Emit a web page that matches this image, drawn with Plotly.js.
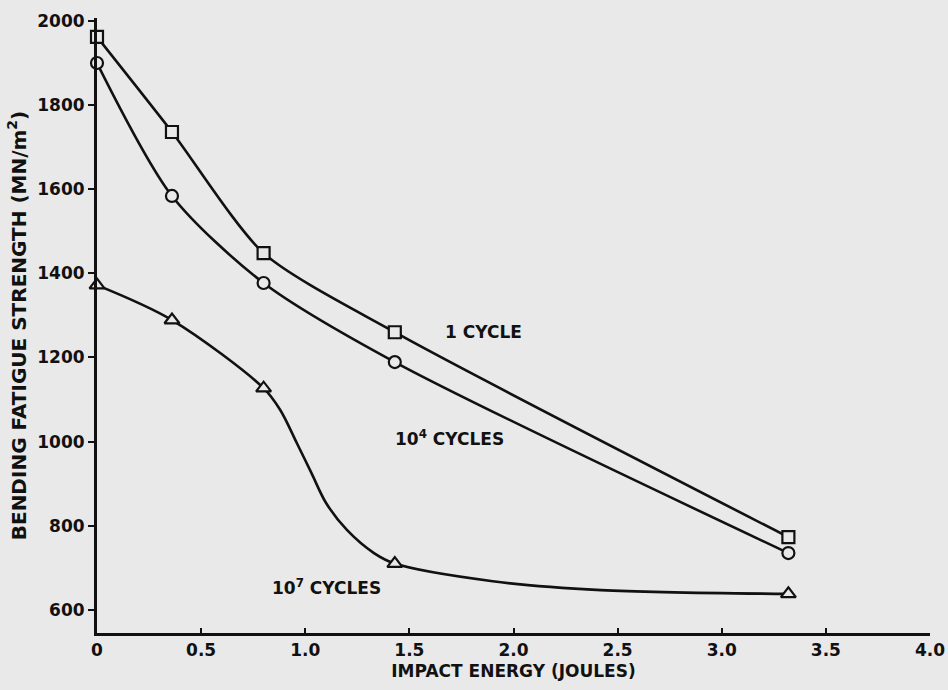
<!DOCTYPE html>
<html>
<head>
<meta charset="utf-8">
<script src="https://cdn.plot.ly/plotly-3.0.1.min.js"></script>
<style>html,body{margin:0;padding:0;background:#e9e9e9;}#chart{width:948px;height:690px;}</style>
</head>
<body>
<div id="chart"></div>
<script>
// Impact energy (joules) at which specimens were tested
const energy = [0, 0.36, 0.80, 1.43, 3.32];
// Bending fatigue strength (MN/m^2)
const oneCycle   = [1962, 1736, 1448, 1260, 773];
const tenE4      = [1900, 1584, 1377, 1189, 735];
const tenE7      = [1372, 1289, 1127, 710, 638];
// Extra points read along the hand-drawn 10^7 curve (shape of the S-bend)
const curve7X = [0, 0.36, 0.80, 0.88, 0.96, 1.03, 1.10, 1.20, 1.33, 1.43, 1.90, 2.42, 3.32];
const curve7Y = [1372, 1289, 1127, 1075, 996, 925, 854, 790, 735, 710, 668, 647, 638];

const xTicks = [0, 0.5, 1.0, 1.5, 2.0, 2.5, 3.0, 3.5, 4.0];
const xTickText = ['0', '0.5', '1.0', '1.5', '2.0', '2.5', '3.0', '3.5', '4.0'];
const yTicks = [600, 800, 1000, 1200, 1400, 1600, 1800, 2000];

const BG = '#e9e9e9';
const INK = '#111111';
const FONT = 'DejaVu Sans';

function lineTrace(x, y, smooth) {
  return {x: x, y: y, mode: 'lines', type: 'scatter', hoverinfo: 'skip',
    line: {color: INK, width: 2.6, shape: 'spline', smoothing: smooth}, showlegend: false};
}
function markerTrace(x, y, symbol, size) {
  return {x: x, y: y, mode: 'markers', type: 'scatter', showlegend: false, cliponaxis: false,
    marker: {symbol: symbol, size: size, color: BG, line: {color: INK, width: 2.2}}};
}

const data = [
  lineTrace(energy, oneCycle, 0.7),
  lineTrace(energy, tenE4, 0.8),
  lineTrace(curve7X, curve7Y, 0.9),
  markerTrace(energy, oneCycle, 'square', 12),
  markerTrace(energy, tenE4, 'circle', 12),
  markerTrace(energy, tenE7, 'triangle-up', 13)
];

const labelFont = {family: FONT, size: 17, color: INK, weight: 'bold'};
const yTitleFont = {family: FONT, size: 20, color: INK, weight: 'bold'};

const layout = {
  width: 948, height: 690,
  paper_bgcolor: BG, plot_bgcolor: BG,
  margin: {l: 97, r: 18, t: 18, b: 57},
  showlegend: false,
  xaxis: {
    range: [0, 4.0], tickvals: xTicks, ticktext: xTickText,
    showgrid: false, zeroline: false, showline: true, linecolor: INK, linewidth: 3,
    ticks: 'inside', ticklen: 5, tickwidth: 2, tickcolor: INK,
    tickfont: labelFont,
    title: {text: 'IMPACT ENERGY (JOULES)', font: labelFont, standoff: 6}
  },
  yaxis: {
    range: [545, 2007], tickvals: yTicks,
    showgrid: false, zeroline: false, showline: true, linecolor: INK, linewidth: 3,
    ticks: 'outside', ticklen: 6, tickwidth: 2, tickcolor: INK,
    tickfont: labelFont,
    title: {text: 'BENDING FATIGUE STRENGTH (MN/m<sup>2</sup>)', font: yTitleFont, standoff: 6}
  },
  annotations: [
    {x: 1.66, y: 1260, xref: 'x', yref: 'y', text: '1 CYCLE', showarrow: false, xanchor: 'left', yanchor: 'middle', font: labelFont},
    {x: 1.42, y: 1008, xref: 'x', yref: 'y', text: '10<sup>4</sup> CYCLES', showarrow: false, xanchor: 'left', yanchor: 'middle', font: labelFont},
    {x: 0.83, y: 654, xref: 'x', yref: 'y', text: '10<sup>7</sup> CYCLES', showarrow: false, xanchor: 'left', yanchor: 'middle', font: labelFont}
  ]
};

Plotly.newPlot('chart', data, layout, {displayModeBar: false, staticPlot: true});
</script>
</body>
</html>
